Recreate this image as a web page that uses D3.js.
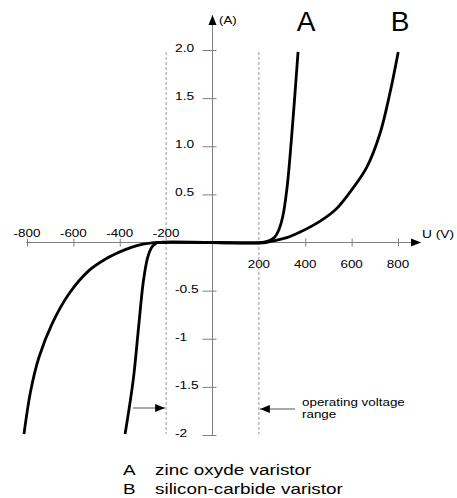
<!DOCTYPE html>
<meta charset="utf-8">
<style>
  body { margin: 0; background: #fff; }
  text { font-family: "Liberation Sans", Arial, sans-serif; }
</style>
<script src="https://d3js.org/d3.v7.min.js"></script>
<body>
<script>
// zinc oxyde varistor (A)
var voltsA = [-377, -342, -320, -298, -280, -262, -245, -235, 0, 216, 246, 268, 285, 303, 321, 340, 369];
var ampsA  = [-1.99, -1.43, -0.91, -0.40, -0.16, -0.05, -0.01, 0, 0, 0, 0.02, 0.055, 0.125, 0.27, 0.56, 1.06, 1.98];

// silicon-carbide varistor (B)
var voltsB = [-813, -784, -748, -691, -618, -532, -460, -402, -350, -300, -260, -240, 0, 230, 268, 320, 376, 463, 530, 592, 665, 722, 765, 801];
var ampsB  = [-1.99, -1.54, -1.19, -0.84, -0.53, -0.29, -0.17, -0.10, -0.05, -0.018, -0.003, 0, 0, 0, 0.02, 0.05, 0.107, 0.22, 0.34, 0.52, 0.78, 1.13, 1.55, 1.98];

var xTicks = [-800, -600, -400, 400, 600, 800];
var xLabels = [-800, -600, -400, -200, 200, 400, 600, 800];
var yTicks = [2, 1.5, 1, 0.5, -0.5, -1, -1.5, -2];
var yLabels = ["2.0", "1.5", "1.0", "0.5", "-0.5", "-1", "-1.5", "-2"];
var rangeVolts = [-200, 200];
var legend = [["A", "zinc oxyde varistor"], ["B", "silicon-carbide varistor"]];

var svg = d3.select("body").append("svg")
    .attr("width", 457)
    .attr("height", 498);

var x = d3.scaleLinear().domain([-800, 800]).range([27, 398]);
var y = d3.scaleLinear().domain([-2, 2]).range([435, 50]);

var axisColor = "#808080";

// the original lettering is a bit wider than Arial
function wide(px, py, s) {
  return "translate(" + px + "," + py + ") scale(" + (s || 1.22) + ",1)";
}

// arrow marker
svg.append("defs").append("marker")
    .attr("id", "arr")
    .attr("viewBox", "0 0 10 10")
    .attr("refX", 10).attr("refY", 5)
    .attr("markerWidth", 10).attr("markerHeight", 10)
    .attr("markerUnits", "userSpaceOnUse")
    .attr("orient", "auto")
  .append("path")
    .attr("d", "M0,1 L10,5 L0,9 Z")
    .attr("fill", "#000");

// dashed limits of operating range
svg.selectAll(".lim")
  .data(rangeVolts)
  .enter().append("line")
    .attr("class", "lim")
    .attr("x1", function(d) { return x(d); })
    .attr("x2", function(d) { return x(d); })
    .attr("y1", 52)
    .attr("y2", 434)
    .style("stroke", "#999")
    .style("stroke-dasharray", "3,2")
    .style("stroke-width", 1);

// x axis
svg.append("line")
    .attr("x1", x(-800) - 1).attr("x2", 421)
    .attr("y1", y(0)).attr("y2", y(0))
    .style("stroke", axisColor)
    .attr("marker-end", "url(#arr)");

var gx = svg.append("g")
    .attr("transform", "translate(0," + y(0) + ")")
    .call(d3.axisBottom(x).tickValues(xTicks).tickSize(4).tickSizeOuter(0).tickFormat(""));
gx.select(".domain").remove();
gx.selectAll(".tick line").attr("y1", -4).style("stroke", axisColor);

svg.selectAll(".xlab")
  .data(xLabels)
  .enter().append("text")
    .attr("class", "xlab")
    .attr("transform", function(d) { return wide(x(d), d < 0 ? y(0) - 6 : y(0) + 25); })
    .attr("text-anchor", "middle")
    .style("font-size", "11px")
    .text(function(d) { return d; });

svg.append("text")
    .attr("transform", wide(422, 238, 1.25))
    .style("font-size", "11px")
    .text("U (V)");

// y axis
svg.append("line")
    .attr("x1", x(0)).attr("x2", x(0))
    .attr("y1", y(-2)).attr("y2", 15)
    .style("stroke", axisColor)
    .attr("marker-end", "url(#arr)");

var gy = svg.append("g")
    .attr("transform", "translate(" + x(0) + ",0)")
    .call(d3.axisLeft(y).tickValues(yTicks).tickSize(10).tickSizeOuter(0).tickFormat(""));
gy.select(".domain").remove();
gy.selectAll(".tick line").attr("x1", 4).style("stroke", axisColor);

svg.selectAll(".ylab")
  .data(yTicks)
  .enter().append("text")
    .attr("class", "ylab")
    .attr("transform", function(d) { return wide(175, y(d) + 2, 1.25); })
    .style("font-size", "11px")
    .text(function(d, i) { return yLabels[i]; });

svg.append("text")
    .attr("transform", wide(219, 24, 1.2))
    .style("font-size", "11px")
    .text("(A)");

// curves
var line = d3.line()
    .x(function(d) { return x(d[0]); })
    .y(function(d) { return y(d[1]); })
    .curve(d3.curveCatmullRom.alpha(0.5));

var series = [d3.zip(voltsA, ampsA), d3.zip(voltsB, ampsB)];
svg.selectAll(".curve")
  .data(series)
  .enter().append("path")
    .attr("class", "curve")
    .attr("d", line)
    .style("fill", "none")
    .style("stroke", "#000")
    .style("stroke-width", 2.8);

// curve names
svg.append("text").attr("x", 306).attr("y", 31).attr("text-anchor", "middle")
    .style("font-size", "28px").text("A");
svg.append("text").attr("x", 400).attr("y", 31).attr("text-anchor", "middle")
    .style("font-size", "28px").text("B");

// operating range arrows
svg.append("line")
    .attr("x1", 133).attr("x2", x(-200) - 1)
    .attr("y1", 408).attr("y2", 408)
    .style("stroke", "#555")
    .attr("marker-end", "url(#arr)");
svg.append("line")
    .attr("x1", 295).attr("x2", x(200) + 1)
    .attr("y1", 409).attr("y2", 409)
    .style("stroke", "#555")
    .attr("marker-end", "url(#arr)");

svg.append("text").attr("transform", wide(302, 406))
    .style("font-size", "11px").text("operating voltage");
svg.append("text").attr("transform", wide(302, 418))
    .style("font-size", "11px").text("range");

// legend
var lg = svg.selectAll(".leg")
  .data(legend)
  .enter().append("g")
    .attr("class", "leg")
    .attr("transform", function(d, i) { return "translate(0," + (475 + i * 19) + ")"; });
lg.append("text").attr("transform", wide(123, 0, 1.26)).style("font-size", "15px").text(function(d) { return d[0]; });
lg.append("text").attr("transform", wide(155, 0, 1.26)).style("font-size", "15px").text(function(d) { return d[1]; });
</script>
</body>
